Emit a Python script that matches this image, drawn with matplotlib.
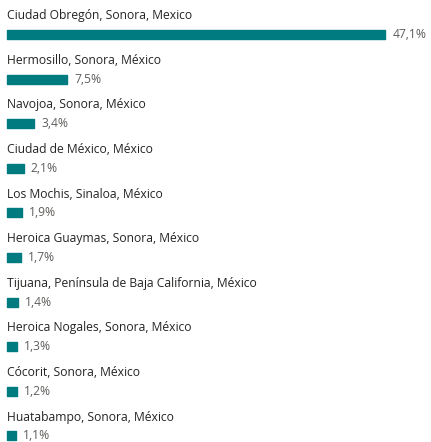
import matplotlib.pyplot as plt

ciudades = [
    'Ciudad Obregón, Sonora, Mexico',
    'Hermosillo, Sonora, México',
    'Navojoa, Sonora, México',
    'Ciudad de México, México',
    'Los Mochis, Sinaloa, México',
    'Heroica Guaymas, Sonora, México',
    'Tijuana, Península de Baja California, México',
    'Heroica Nogales, Sonora, México',
    'Cócorit, Sonora, México',
    'Huatabampo, Sonora, México',
]
porcentajes = [47.1, 7.5, 3.4, 2.1, 1.9, 1.7, 1.4, 1.3, 1.2, 1.1]

color_barra = '#007C80'

fig = plt.figure(figsize=(4.315, 4.42), dpi=100)
ax = fig.add_axes([0, 0, 1, 1])

px_x = 378 / 47.1          # pixeles por punto porcentual
paso = 44.6                # pixeles entre filas
ax.set_xlim(-7 / px_x, (431 - 7) / px_x)
ax.set_ylim((442 - 34.5) / paso, -34.5 / paso)

y = list(range(len(ciudades)))
ax.barh(y, porcentajes, height=0.2, color=color_barra,
        edgecolor=color_barra, linewidth=1, joinstyle='round')

for i, (nombre, valor) in enumerate(zip(ciudades, porcentajes)):
    ax.text(0, i - 0.42, nombre, fontsize=8.75, color='#252423',
            family='Open Sans', va='center', ha='left')
    ax.text(valor + 7 / px_x, i, f'{valor:.1f}%'.replace('.', ','),
            fontsize=8.75, color='#605E5C', family='Open Sans',
            va='center', ha='left')

ax.axis('off')
fig.savefig('out.png', dpi=100)
